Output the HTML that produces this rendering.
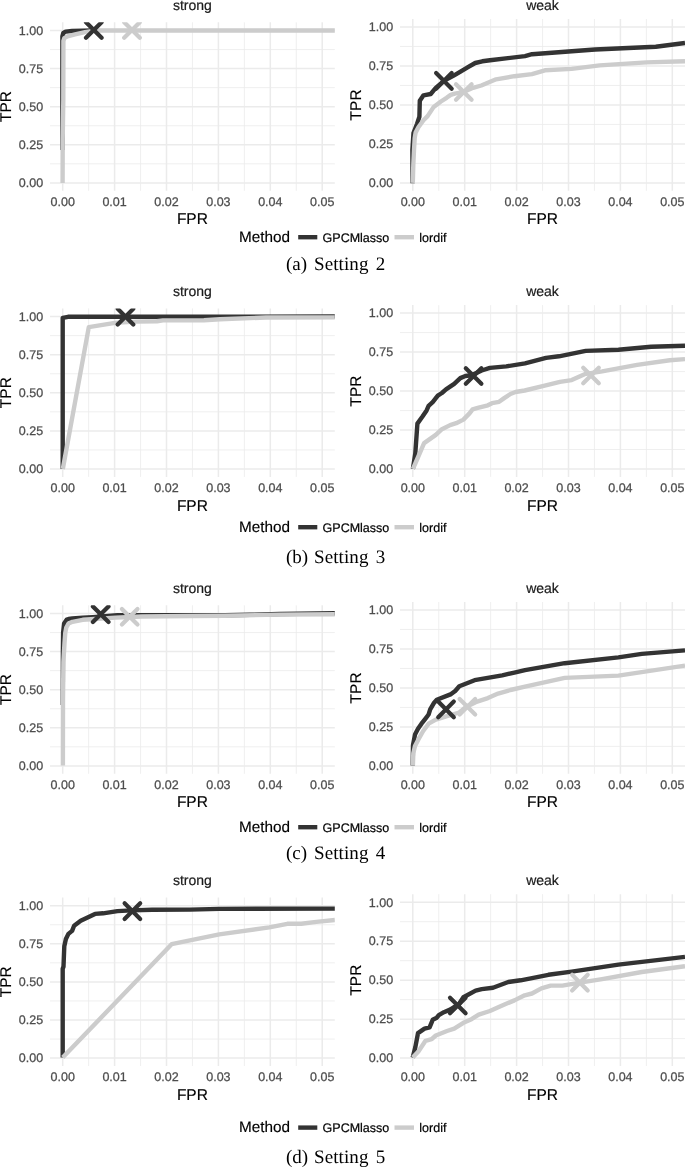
<!DOCTYPE html>
<html lang="en">
<head>
<meta charset="utf-8">
<title>ROC curves: GPCMlasso vs lordif</title>
<style>
html,body{margin:0;padding:0;background:#ffffff;}
body{width:685px;height:1167px;overflow:hidden;}
svg{display:block;}
text{text-rendering:geometricPrecision;}
.tk{font-family:"Liberation Sans",Arial,Helvetica,sans-serif;font-size:12.5px;fill:#4d4d4d;stroke:#4d4d4d;stroke-width:0.25px;}
.ax{font-family:"Liberation Sans",Arial,Helvetica,sans-serif;font-size:15.5px;fill:#000000;stroke:#000000;stroke-width:0.15px;}
.st{font-family:"Liberation Sans",Arial,Helvetica,sans-serif;font-size:14px;fill:#1a1a1a;stroke:#1a1a1a;stroke-width:0.2px;}
.lt{font-family:"Liberation Sans",Arial,Helvetica,sans-serif;font-size:15.3px;fill:#000000;stroke:#000000;stroke-width:0.15px;}
.lg{font-family:"Liberation Sans",Arial,Helvetica,sans-serif;font-size:12.5px;fill:#000000;stroke:#000000;stroke-width:0.2px;}
.cp{font-family:"Liberation Serif","Times New Roman",Times,serif;font-size:19px;fill:#000000;}
.gM{stroke:#ebebeb;stroke-width:1.5;fill:none;}
.gm{stroke:#ebebeb;stroke-width:0.8;fill:none;}
.cd{stroke:#333333;stroke-width:4.4;fill:none;stroke-linejoin:round;stroke-linecap:butt;}
.cl{stroke:#cccccc;stroke-width:4.4;fill:none;stroke-linejoin:round;stroke-linecap:butt;}
.xd{stroke:#333333;stroke-width:4.2;fill:none;stroke-linecap:round;}
.xl{stroke:#cccccc;stroke-width:4.2;fill:none;stroke-linecap:round;}
</style>
</head>
<body>
<svg width="685" height="1167" viewBox="0 0 685 1167">
<rect x="0" y="0" width="685" height="1167" fill="#ffffff"/>
<!-- row 1 -->
<clipPath id="c0L"><rect x="50" y="22.3" width="284.8" height="168.5"/></clipPath>
<path class="gm" d="M50 163.85H334.8M50 125.75H334.8M50 87.65H334.8M50 49.55H334.8M88.65 22.3V190.8M140.55 22.3V190.8M192.45 22.3V190.8M244.35 22.3V190.8M296.25 22.3V190.8"/>
<path class="gM" d="M50 182.9H334.8M50 144.8H334.8M50 106.7H334.8M50 68.6H334.8M50 30.5H334.8M62.7 22.3V190.8M114.6 22.3V190.8M166.5 22.3V190.8M218.4 22.3V190.8M270.3 22.3V190.8M322.2 22.3V190.8"/>
<g clip-path="url(#c0L)">
<polyline class="cd" points="62.5,150 62.4,100 62.4,36.4 63.2,33.2 65.6,31.6 72,31 93,30.5 96,30.5"/>
<polyline class="cl" points="62.6,182.9 62.7,140 63.3,100 63.4,41 64.3,38.1 67.5,36.3 75,34.3 85,32.1 93,30.8 100,30.5 335,30.5"/>
<path class="xd" d="M86 22.2L101.6 37.8M86 37.8L101.6 22.2"/>
<path class="xl" d="M124.2 22.2L139.8 37.8M124.2 37.8L139.8 22.2"/>
</g>
<text class="st" x="192.4" y="9.9" text-anchor="middle">strong</text>
<text class="tk" x="43.1" y="187.2" text-anchor="end">0.00</text>
<text class="tk" x="43.1" y="149.1" text-anchor="end">0.25</text>
<text class="tk" x="43.1" y="111" text-anchor="end">0.50</text>
<text class="tk" x="43.1" y="72.9" text-anchor="end">0.75</text>
<text class="tk" x="43.1" y="34.8" text-anchor="end">1.00</text>
<text class="tk" x="62.7" y="206" text-anchor="middle">0.00</text>
<text class="tk" x="114.6" y="206" text-anchor="middle">0.01</text>
<text class="tk" x="166.5" y="206" text-anchor="middle">0.02</text>
<text class="tk" x="218.4" y="206" text-anchor="middle">0.03</text>
<text class="tk" x="270.3" y="206" text-anchor="middle">0.04</text>
<text class="tk" x="322.2" y="206" text-anchor="middle">0.05</text>
<text class="ax" x="192.4" y="224.4" text-anchor="middle">FPR</text>
<text class="ax" transform="translate(10.8 106.55) rotate(-90)" text-anchor="middle">TPR</text>
<clipPath id="c0R"><rect x="400" y="19" width="285" height="171.8"/></clipPath>
<path class="gm" d="M400 163.41H685M400 124.44H685M400 85.46H685M400 46.49H685M438.75 19V190.8M490.65 19V190.8M542.55 19V190.8M594.45 19V190.8M646.35 19V190.8"/>
<path class="gM" d="M400 182.9H685M400 143.93H685M400 104.95H685M400 65.97H685M400 27H685M412.8 19V190.8M464.7 19V190.8M516.6 19V190.8M568.5 19V190.8M620.4 19V190.8M672.3 19V190.8"/>
<g clip-path="url(#c0R)">
<polyline class="cd" points="412.6,183.2 412.4,150 413.5,133 417.1,123.7 419.4,116.8 419.8,100.8 423.5,95.3 430.7,94 435.8,87.9 443.9,80.9 453.7,75.6 460.9,71.4 468,67.2 475.2,63 482.3,61.3 490,60.3 525,56.1 532,54.2 595.1,49.5 655.8,46.7 685,43"/>
<polyline class="cl" points="412.8,182.9 413.3,165 414,150 414.7,138 415.6,132.6 418.4,127.3 423.5,120.2 427.6,116.1 433.7,106.9 440.9,101.5 446.6,97.8 450.7,94.9 454.7,93.7 462.9,92.2 473.1,87.8 481.3,85.5 496.1,79.3 514.4,76.2 532,74.1 544.9,70.3 571.7,68.9 599.7,65.4 646.5,62.4 685,61.2"/>
<path class="xd" d="M436.1 73.1L451.7 88.7M436.1 88.7L451.7 73.1"/>
<path class="xl" d="M456 84.2L471.6 99.8M456 99.8L471.6 84.2"/>
</g>
<text class="st" x="542.5" y="9.9" text-anchor="middle">weak</text>
<text class="tk" x="393.1" y="187.2" text-anchor="end">0.00</text>
<text class="tk" x="393.1" y="148.23" text-anchor="end">0.25</text>
<text class="tk" x="393.1" y="109.25" text-anchor="end">0.50</text>
<text class="tk" x="393.1" y="70.27" text-anchor="end">0.75</text>
<text class="tk" x="393.1" y="31.3" text-anchor="end">1.00</text>
<text class="tk" x="412.8" y="206" text-anchor="middle">0.00</text>
<text class="tk" x="464.7" y="206" text-anchor="middle">0.01</text>
<text class="tk" x="516.6" y="206" text-anchor="middle">0.02</text>
<text class="tk" x="568.5" y="206" text-anchor="middle">0.03</text>
<text class="tk" x="620.4" y="206" text-anchor="middle">0.04</text>
<text class="tk" x="672.3" y="206" text-anchor="middle">0.05</text>
<text class="ax" x="542.5" y="224.4" text-anchor="middle">FPR</text>
<text class="ax" transform="translate(360.8 104.9) rotate(-90)" text-anchor="middle">TPR</text>
<text class="lt" x="239" y="241.9">Method</text>
<path d="M298.2 237.2H317.3" stroke="#333333" stroke-width="4.4"/>
<text class="lg" x="322.6" y="241.5">GPCMlasso</text>
<path d="M394.5 237.2H414" stroke="#cccccc" stroke-width="4.4"/>
<text class="lg" x="419.3" y="241.5">lordif</text>
<text class="cp" y="270.2"><tspan x="286">(a)</tspan><tspan x="314" letter-spacing="0.1">Setting</tspan><tspan x="375.8">2</tspan></text>
<!-- row 2 -->
<clipPath id="c1L"><rect x="50" y="308.4" width="284.8" height="168.5"/></clipPath>
<path class="gm" d="M50 449.95H334.8M50 411.85H334.8M50 373.75H334.8M50 335.65H334.8M88.65 308.4V476.9M140.55 308.4V476.9M192.45 308.4V476.9M244.35 308.4V476.9M296.25 308.4V476.9"/>
<path class="gM" d="M50 469H334.8M50 430.9H334.8M50 392.8H334.8M50 354.7H334.8M50 316.6H334.8M62.7 308.4V476.9M114.6 308.4V476.9M166.5 308.4V476.9M218.4 308.4V476.9M270.3 308.4V476.9M322.2 308.4V476.9"/>
<g clip-path="url(#c1L)">
<polyline class="cd" points="62.7,469 62.7,317.8 68,316.8 200,316.7 335,316.4"/>
<polyline class="cl" points="62.8,469 88.8,327.2 115,322.9 136,321.6 157,321.3 163,320.4 204,320.2 220,319.2 266,317.5 335,317.4"/>
<path class="xd" d="M117.7 308.8L133.3 324.4M117.7 324.4L133.3 308.8"/>
</g>
<text class="st" x="192.4" y="296" text-anchor="middle">strong</text>
<text class="tk" x="43.1" y="473.3" text-anchor="end">0.00</text>
<text class="tk" x="43.1" y="435.2" text-anchor="end">0.25</text>
<text class="tk" x="43.1" y="397.1" text-anchor="end">0.50</text>
<text class="tk" x="43.1" y="359" text-anchor="end">0.75</text>
<text class="tk" x="43.1" y="320.9" text-anchor="end">1.00</text>
<text class="tk" x="62.7" y="492.1" text-anchor="middle">0.00</text>
<text class="tk" x="114.6" y="492.1" text-anchor="middle">0.01</text>
<text class="tk" x="166.5" y="492.1" text-anchor="middle">0.02</text>
<text class="tk" x="218.4" y="492.1" text-anchor="middle">0.03</text>
<text class="tk" x="270.3" y="492.1" text-anchor="middle">0.04</text>
<text class="tk" x="322.2" y="492.1" text-anchor="middle">0.05</text>
<text class="ax" x="192.4" y="510.5" text-anchor="middle">FPR</text>
<text class="ax" transform="translate(10.8 392.65) rotate(-90)" text-anchor="middle">TPR</text>
<clipPath id="c1R"><rect x="400" y="305.1" width="285" height="171.8"/></clipPath>
<path class="gm" d="M400 449.51H685M400 410.54H685M400 371.56H685M400 332.59H685M438.75 305.1V476.9M490.65 305.1V476.9M542.55 305.1V476.9M594.45 305.1V476.9M646.35 305.1V476.9"/>
<path class="gM" d="M400 469H685M400 430.02H685M400 391.05H685M400 352.07H685M400 313.1H685M412.8 305.1V476.9M464.7 305.1V476.9M516.6 305.1V476.9M568.5 305.1V476.9M620.4 305.1V476.9M672.3 305.1V476.9"/>
<g clip-path="url(#c1R)">
<polyline class="cd" points="412.9,468.8 415.3,453.3 417.4,423.6 422.5,416.5 426.6,410.4 428.6,405.9 432.7,402.2 437.8,395.6 441.9,393 446,389.3 454.2,383.8 460.3,378.1 465.4,376 471.5,375.2 481.7,370.5 489.9,367.9 506.3,366.4 525,363.3 546,357.9 558.9,356.3 585.7,350.9 618.4,349.7 651.1,346.7 685,345.7"/>
<polyline class="cl" points="412.9,468.8 415.3,463.5 424.1,443.1 435.8,434.9 441.9,429.2 450.1,425.1 456.2,423.2 463.4,419.6 469.5,413.4 472.6,409.3 477.7,407.9 487.9,405.3 492,403.2 499.1,401.8 504.2,398.1 510.4,394 515.5,392 524.7,390.5 543.7,385.9 560,381.9 571.7,380.1 584.6,374.2 602.1,371.4 637.1,364.9 669.8,360.2 685,359.1"/>
<path class="xd" d="M465.8 368.2L481.4 383.8M465.8 383.8L481.4 368.2"/>
<path class="xl" d="M583.2 367.7L598.8 383.3M583.2 383.3L598.8 367.7"/>
</g>
<text class="st" x="542.5" y="296" text-anchor="middle">weak</text>
<text class="tk" x="393.1" y="473.3" text-anchor="end">0.00</text>
<text class="tk" x="393.1" y="434.32" text-anchor="end">0.25</text>
<text class="tk" x="393.1" y="395.35" text-anchor="end">0.50</text>
<text class="tk" x="393.1" y="356.38" text-anchor="end">0.75</text>
<text class="tk" x="393.1" y="317.4" text-anchor="end">1.00</text>
<text class="tk" x="412.8" y="492.1" text-anchor="middle">0.00</text>
<text class="tk" x="464.7" y="492.1" text-anchor="middle">0.01</text>
<text class="tk" x="516.6" y="492.1" text-anchor="middle">0.02</text>
<text class="tk" x="568.5" y="492.1" text-anchor="middle">0.03</text>
<text class="tk" x="620.4" y="492.1" text-anchor="middle">0.04</text>
<text class="tk" x="672.3" y="492.1" text-anchor="middle">0.05</text>
<text class="ax" x="542.5" y="510.5" text-anchor="middle">FPR</text>
<text class="ax" transform="translate(360.8 391) rotate(-90)" text-anchor="middle">TPR</text>
<text class="lt" x="239" y="531.9">Method</text>
<path d="M298.2 527.2H317.3" stroke="#333333" stroke-width="4.4"/>
<text class="lg" x="322.6" y="531.5">GPCMlasso</text>
<path d="M394.5 527.2H414" stroke="#cccccc" stroke-width="4.4"/>
<text class="lg" x="419.3" y="531.5">lordif</text>
<text class="cp" y="562.6"><tspan x="286">(b)</tspan><tspan x="314" letter-spacing="0.1">Setting</tspan><tspan x="375.8">3</tspan></text>
<!-- row 3 -->
<clipPath id="c2L"><rect x="50" y="605.3" width="284.8" height="168.5"/></clipPath>
<path class="gm" d="M50 746.85H334.8M50 708.75H334.8M50 670.65H334.8M50 632.55H334.8M88.65 605.3V773.8M140.55 605.3V773.8M192.45 605.3V773.8M244.35 605.3V773.8M296.25 605.3V773.8"/>
<path class="gM" d="M50 765.9H334.8M50 727.8H334.8M50 689.7H334.8M50 651.6H334.8M50 613.5H334.8M62.7 605.3V773.8M114.6 605.3V773.8M166.5 605.3V773.8M218.4 605.3V773.8M270.3 605.3V773.8M322.2 605.3V773.8"/>
<g clip-path="url(#c2L)">
<polyline class="cd" points="62.8,705 62.9,652 63.1,632.7 64.1,623.5 66.8,619.6 68.6,619 72.4,618.5 82.7,617.8 92.9,617.2 117.4,615.3 225,615.2 250,614.8 280,614 335,613.2"/>
<polyline class="cl" points="62.9,765.6 63,700 63.4,662 64.5,643 65.3,632.7 66.3,627.5 68.5,623.6 72.5,621.8 82.7,619.8 90.9,619.3 115.4,617.6 142,616.5 190,616 225,615.7 280,614.6 335,614.3"/>
<path class="xd" d="M92.9 606.4L108.5 622M92.9 622L108.5 606.4"/>
<path class="xl" d="M121.9 609L137.5 624.6M121.9 624.6L137.5 609"/>
</g>
<text class="st" x="192.4" y="592.9" text-anchor="middle">strong</text>
<text class="tk" x="43.1" y="770.2" text-anchor="end">0.00</text>
<text class="tk" x="43.1" y="732.1" text-anchor="end">0.25</text>
<text class="tk" x="43.1" y="694" text-anchor="end">0.50</text>
<text class="tk" x="43.1" y="655.9" text-anchor="end">0.75</text>
<text class="tk" x="43.1" y="617.8" text-anchor="end">1.00</text>
<text class="tk" x="62.7" y="789" text-anchor="middle">0.00</text>
<text class="tk" x="114.6" y="789" text-anchor="middle">0.01</text>
<text class="tk" x="166.5" y="789" text-anchor="middle">0.02</text>
<text class="tk" x="218.4" y="789" text-anchor="middle">0.03</text>
<text class="tk" x="270.3" y="789" text-anchor="middle">0.04</text>
<text class="tk" x="322.2" y="789" text-anchor="middle">0.05</text>
<text class="ax" x="192.4" y="807.4" text-anchor="middle">FPR</text>
<text class="ax" transform="translate(10.8 689.55) rotate(-90)" text-anchor="middle">TPR</text>
<clipPath id="c2R"><rect x="400" y="602" width="285" height="171.8"/></clipPath>
<path class="gm" d="M400 746.41H685M400 707.44H685M400 668.46H685M400 629.49H685M438.75 602V773.8M490.65 602V773.8M542.55 602V773.8M594.45 602V773.8M646.35 602V773.8"/>
<path class="gM" d="M400 765.9H685M400 726.92H685M400 687.95H685M400 648.97H685M400 610H685M412.8 602V773.8M464.7 602V773.8M516.6 602V773.8M568.5 602V773.8M620.4 602V773.8M672.3 602V773.8"/>
<g clip-path="url(#c2R)">
<polyline class="cd" points="412.7,765.6 413,745.1 415,734.6 418,728.8 421.5,723.7 425.5,718.6 428.6,714.5 430.2,709.4 433.7,703.3 436.8,699.8 451.1,694.1 455.2,691 459.3,686.3 474.6,680.2 502.2,675.3 514.4,672.6 525,670.2 564.7,663.2 618.4,657.4 641.8,653.9 685,650.4"/>
<polyline class="cl" points="412.9,765.6 413.3,753.3 415,746 418.4,739.4 423.2,731 428.6,723.7 435.8,719.6 447,716.1 459.3,712.5 465.4,707.3 475.6,702.2 487.9,698.1 498.1,693.6 510.4,690 525,686.6 564.7,677.9 618.4,675.6 685,665.6"/>
<path class="xd" d="M438.2 701.6L453.8 717.2M438.2 717.2L453.8 701.6"/>
<path class="xl" d="M459.6 698.9L475.2 714.5M459.6 714.5L475.2 698.9"/>
</g>
<text class="st" x="542.5" y="592.9" text-anchor="middle">weak</text>
<text class="tk" x="393.1" y="770.2" text-anchor="end">0.00</text>
<text class="tk" x="393.1" y="731.22" text-anchor="end">0.25</text>
<text class="tk" x="393.1" y="692.25" text-anchor="end">0.50</text>
<text class="tk" x="393.1" y="653.27" text-anchor="end">0.75</text>
<text class="tk" x="393.1" y="614.3" text-anchor="end">1.00</text>
<text class="tk" x="412.8" y="789" text-anchor="middle">0.00</text>
<text class="tk" x="464.7" y="789" text-anchor="middle">0.01</text>
<text class="tk" x="516.6" y="789" text-anchor="middle">0.02</text>
<text class="tk" x="568.5" y="789" text-anchor="middle">0.03</text>
<text class="tk" x="620.4" y="789" text-anchor="middle">0.04</text>
<text class="tk" x="672.3" y="789" text-anchor="middle">0.05</text>
<text class="ax" x="542.5" y="807.4" text-anchor="middle">FPR</text>
<text class="ax" transform="translate(360.8 687.9) rotate(-90)" text-anchor="middle">TPR</text>
<text class="lt" x="239" y="831.9">Method</text>
<path d="M298.2 827.2H317.3" stroke="#333333" stroke-width="4.4"/>
<text class="lg" x="322.6" y="831.5">GPCMlasso</text>
<path d="M394.5 827.2H414" stroke="#cccccc" stroke-width="4.4"/>
<text class="lg" x="419.3" y="831.5">lordif</text>
<text class="cp" y="858.6"><tspan x="286">(c)</tspan><tspan x="314" letter-spacing="0.1">Setting</tspan><tspan x="375.8">4</tspan></text>
<!-- row 4 -->
<clipPath id="c3L"><rect x="50" y="897.5" width="284.8" height="168.5"/></clipPath>
<path class="gm" d="M50 1039.05H334.8M50 1000.95H334.8M50 962.85H334.8M50 924.75H334.8M88.65 897.5V1066M140.55 897.5V1066M192.45 897.5V1066M244.35 897.5V1066M296.25 897.5V1066"/>
<path class="gM" d="M50 1058.1H334.8M50 1020H334.8M50 981.9H334.8M50 943.8H334.8M50 905.7H334.8M62.7 897.5V1066M114.6 897.5V1066M166.5 897.5V1066M218.4 897.5V1066M270.3 897.5V1066M322.2 897.5V1066"/>
<g clip-path="url(#c3L)">
<polyline class="cd" points="62.7,1057.6 62.7,968.7 63.5,966.6 64.3,946.2 65.9,939 68.4,933.9 72.1,930.9 74.1,925.8 80.7,920.7 95,913.9 103.1,913.3 117.4,911.1 131.8,910.4 152.2,909.8 190,909.6 219.3,908.9 335,908.6"/>
<polyline class="cl" points="62.7,1057.6 171.6,944.2 219.3,934.4 269.3,927.4 287.3,923.8 301.2,923.8 316.4,921.9 335,920"/>
<path class="xd" d="M124.6 903.3L140.2 918.9M124.6 918.9L140.2 903.3"/>
</g>
<text class="st" x="192.4" y="885.1" text-anchor="middle">strong</text>
<text class="tk" x="43.1" y="1062.4" text-anchor="end">0.00</text>
<text class="tk" x="43.1" y="1024.3" text-anchor="end">0.25</text>
<text class="tk" x="43.1" y="986.2" text-anchor="end">0.50</text>
<text class="tk" x="43.1" y="948.1" text-anchor="end">0.75</text>
<text class="tk" x="43.1" y="910" text-anchor="end">1.00</text>
<text class="tk" x="62.7" y="1081.2" text-anchor="middle">0.00</text>
<text class="tk" x="114.6" y="1081.2" text-anchor="middle">0.01</text>
<text class="tk" x="166.5" y="1081.2" text-anchor="middle">0.02</text>
<text class="tk" x="218.4" y="1081.2" text-anchor="middle">0.03</text>
<text class="tk" x="270.3" y="1081.2" text-anchor="middle">0.04</text>
<text class="tk" x="322.2" y="1081.2" text-anchor="middle">0.05</text>
<text class="ax" x="192.4" y="1099.6" text-anchor="middle">FPR</text>
<text class="ax" transform="translate(10.8 981.75) rotate(-90)" text-anchor="middle">TPR</text>
<clipPath id="c3R"><rect x="400" y="894.2" width="285" height="171.8"/></clipPath>
<path class="gm" d="M400 1038.61H685M400 999.64H685M400 960.66H685M400 921.69H685M438.75 894.2V1066M490.65 894.2V1066M542.55 894.2V1066M594.45 894.2V1066M646.35 894.2V1066"/>
<path class="gM" d="M400 1058.1H685M400 1019.13H685M400 980.15H685M400 941.18H685M400 902.2H685M412.8 894.2V1066M464.7 894.2V1066M516.6 894.2V1066M568.5 894.2V1066M620.4 894.2V1066M672.3 894.2V1066"/>
<g clip-path="url(#c3R)">
<polyline class="cd" points="412.7,1057.6 415.3,1047.4 418,1033.1 424.5,1028.6 429.6,1027.3 432.7,1019.8 436.8,1017.7 438.8,1015.1 443.9,1012.2 450.1,1009.6 455.2,1006.5 459.3,1003.4 463.4,997.3 475.6,990.6 481.7,989.1 493,987.7 508.3,982 520.6,980.3 530.8,978.3 548.4,974.8 571.7,971.6 618.4,964.6 685,956.9"/>
<polyline class="cl" points="412.7,1057.6 418.4,1051.5 425.5,1040.8 431.7,1039.2 435.8,1035.5 447,1031 454.2,1028.6 463.4,1022.8 471.5,1019.2 478.7,1014.7 489.9,1011 502.2,1005.5 514.4,1000.4 524.7,995.3 532,993.5 541.4,988.4 550.7,985.6 562.4,985.6 579.9,982.6 602.1,979.1 641.8,972 685,966.2"/>
<path class="xd" d="M450 997.7L465.6 1013.3M450 1013.3L465.6 997.7"/>
<path class="xl" d="M572.1 974.8L587.7 990.4M572.1 990.4L587.7 974.8"/>
</g>
<text class="st" x="542.5" y="885.1" text-anchor="middle">weak</text>
<text class="tk" x="393.1" y="1062.4" text-anchor="end">0.00</text>
<text class="tk" x="393.1" y="1023.43" text-anchor="end">0.25</text>
<text class="tk" x="393.1" y="984.45" text-anchor="end">0.50</text>
<text class="tk" x="393.1" y="945.48" text-anchor="end">0.75</text>
<text class="tk" x="393.1" y="906.5" text-anchor="end">1.00</text>
<text class="tk" x="412.8" y="1081.2" text-anchor="middle">0.00</text>
<text class="tk" x="464.7" y="1081.2" text-anchor="middle">0.01</text>
<text class="tk" x="516.6" y="1081.2" text-anchor="middle">0.02</text>
<text class="tk" x="568.5" y="1081.2" text-anchor="middle">0.03</text>
<text class="tk" x="620.4" y="1081.2" text-anchor="middle">0.04</text>
<text class="tk" x="672.3" y="1081.2" text-anchor="middle">0.05</text>
<text class="ax" x="542.5" y="1099.6" text-anchor="middle">FPR</text>
<text class="ax" transform="translate(360.8 980.1) rotate(-90)" text-anchor="middle">TPR</text>
<text class="lt" x="239" y="1132.3">Method</text>
<path d="M298.2 1127.6H317.3" stroke="#333333" stroke-width="4.4"/>
<text class="lg" x="322.6" y="1131.9">GPCMlasso</text>
<path d="M394.5 1127.6H414" stroke="#cccccc" stroke-width="4.4"/>
<text class="lg" x="419.3" y="1131.9">lordif</text>
<text class="cp" y="1162.7"><tspan x="286">(d)</tspan><tspan x="314" letter-spacing="0.1">Setting</tspan><tspan x="375.8">5</tspan></text>
</svg>
</body>
</html>
